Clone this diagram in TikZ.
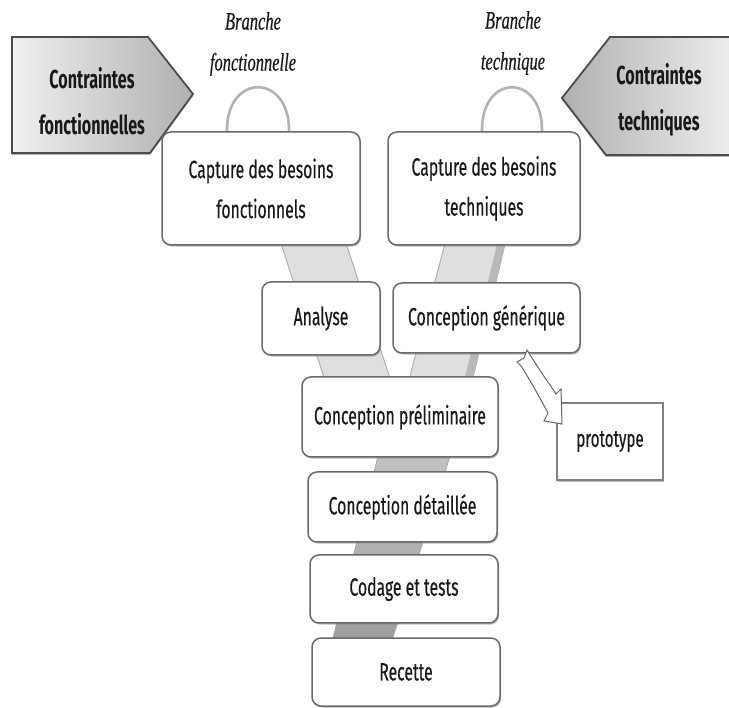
\documentclass[tikz,border=0pt]{standalone}
\usepackage{fontspec}
\setmainfont{Fira Sans}
\newfontfamily\boxfont[FakeStretch=0.63, FakeBold=0.4]{Fira Sans}
\newfontfamily\headfont[FakeStretch=0.62]{Fira Sans}
\newfontfamily\branchfont[FakeStretch=0.66, FakeBold=0.5]{Liberation Serif}
\usetikzlibrary{shadows}

\tikzset{
  stagebox/.style={draw=black!58, line width=1.5pt, fill=white, rounded corners=9pt,
    text=black!90, align=center, inner sep=0pt,
    font=\boxfont\fontsize{25}{40}\selectfont,
    drop shadow={shadow xshift=1.2pt, shadow yshift=-1.6pt, fill=black!45, opacity=0.6}},
  protobox/.style={stagebox, rounded corners=0pt, draw=black!50},
  constraint/.style={draw=black!70, line width=1.8pt,
    drop shadow={shadow xshift=0pt, shadow yshift=-2pt, fill=black!50, opacity=0.6}},
  constrainttext/.style={align=center, text=black!90, inner sep=0pt,
    font=\headfont\bfseries\fontsize{26}{46}\selectfont},
  branchtext/.style={align=center, text=black!90, inner sep=0pt,
    font=\branchfont\itshape\fontsize{25}{41}\selectfont},
  band/.style={fill=gray!25, draw=gray!62, line width=1pt},
  handle/.style={draw=gray!60, line width=2.6pt},
}

\begin{document}
\begin{tikzpicture}[x=1pt, y=-1pt]
\useasboundingbox (0,0) rectangle (729,708);

% the two branches of the Y and the common trunk
\path[band] (280,240) -- (345,240) -- (410,440) -- (344,440) -- cycle;
\path[band] (446,240) -- (506,240) -- (458,440) -- (393,440) -- cycle;
\fill[gray!55] (498,240) -- (506,240) -- (458,440) -- (450,440) -- cycle;
\path[top color=gray!45, bottom color=gray!78, draw=gray!70, line width=0.8pt]
  (382,440) -- (455,440) -- (389,650) -- (330,650) -- cycle;

% handles on top of the two capture boxes
\draw[handle] (227,133) .. controls (225,72) and (291,72) .. (289,133);
\draw[handle] (482,133) .. controls (480,72) and (544,72) .. (542,133);

% constraint arrows on both sides
\path[constraint, left color=gray!12, right color=gray!62]
  (12,37) -- (148,37) -- (193,94) -- (150,153) -- (12,153) -- cycle;
\path[constraint, left color=gray!62, right color=gray!12]
  (740,37) -- (610,37) -- (562,98) -- (606,155) -- (740,155) -- cycle;
\node[constrainttext] (cf) at (92,101) {Contraintes\\fonctionnelles};
\node[constrainttext] (ct) at (659,100) {Contraintes\\techniques};

% branch labels
\node[branchtext] (bf) at (253,44) {Branche\\fonctionnelle};
\node[branchtext] (bt) at (513,43) {Branche\\technique};

% process steps
\node[stagebox, minimum width=198pt, minimum height=113pt] (cbf) at (261,188.5)
  {Capture des besoins\\fonctionnels};
\node[stagebox, minimum width=192pt, minimum height=113pt] (cbt) at (484,188.5)
  {Capture des besoins\\techniques};
\node[stagebox, minimum width=118pt, minimum height=73pt] (ana) at (321,318.5) {Analyse};
\node[stagebox, minimum width=187pt, minimum height=70pt] (cg) at (486.5,318) {Conception générique};
\node[stagebox, minimum width=196pt, minimum height=80pt] (cp) at (400,417) {Conception préliminaire};
\node[stagebox, minimum width=189pt, minimum height=70pt] (cd) at (402.5,507) {Conception détaillée};
\node[stagebox, minimum width=188pt, minimum height=68pt] (cod) at (404,589) {Codage et tests};
\node[stagebox, minimum width=188pt, minimum height=68pt] (rec) at (406,672) {Recette};
\node[protobox, minimum width=106pt, minimum height=77pt, font=\boxfont\fontsize{24}{30}\selectfont]
  (proto) at (610,441.5) {prototype};

% hollow arrow from the generic design to the prototype
\draw[fill=white, draw=black!60, line width=1pt, line join=miter]
  (527,350) .. controls (538,368) and (548,382) .. (556,394)
  -- (561,389) -- (562,424) -- (544,421) -- (548,413)
  .. controls (540,398) and (530,380) .. (521,366)
  -- (517,362) -- (524,358) -- cycle;
\end{tikzpicture}
\end{document}
